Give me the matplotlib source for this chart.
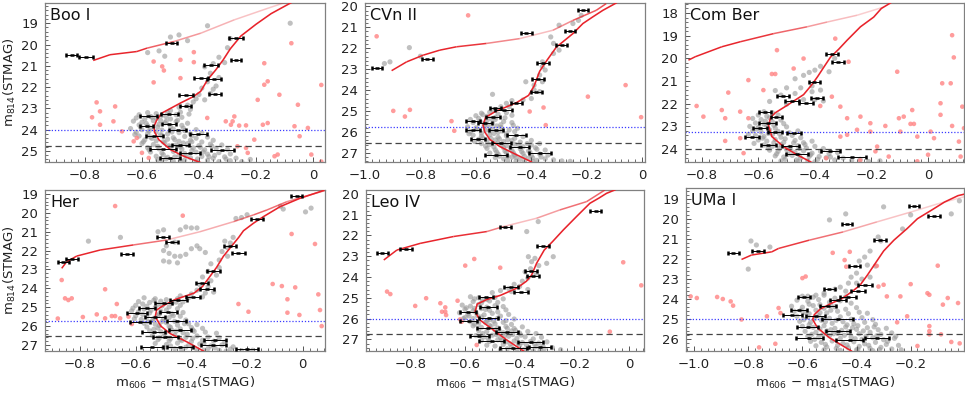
"""Six-panel CMD comparison of ultra-faint dwarfs (m606 - m814 vs m814)."""

import matplotlib

matplotlib.use("Agg")
import matplotlib.pyplot as plt
import numpy as np
from matplotlib.collections import LineCollection
from matplotlib.ticker import FuncFormatter, MultipleLocator

# ---------------------------------------------------------------- Boo I
BOO_RGB_X = [-0.394, -0.453, -0.500, -0.541, -0.556, -0.558, -0.548, -0.530, -0.465, -0.420,
             -0.394, -0.370, -0.341, -0.315, -0.290, -0.253, -0.200, -0.147, -0.076]
BOO_RGB_Y = [25.55, 25.25, 24.94, 24.47, 24.10, 23.85, 23.55, 23.22, 22.75, 22.45,
             22.20, 21.66, 21.19, 20.72, 20.20, 19.60, 19.05, 18.55, 18.03]
BOO_HB_X = [-0.771, -0.712, -0.618, -0.582, -0.488, -0.394, -0.276, -0.159, -0.088]
BOO_HB_Y = [20.75, 20.48, 20.33, 20.17, 19.86, 19.47, 18.84, 18.30, 17.98]
BOO_ERR = [(-0.847, 20.48, 0.018), (-0.796, 20.59, 0.024), (-0.496, 19.95, 0.018),
           (-0.271, 19.70, 0.024), (-0.271, 20.72, 0.018), (-0.359, 20.95, 0.024),
           (-0.394, 21.58, 0.024), (-0.347, 21.64, 0.024), (-0.445, 22.36, 0.024),
           (-0.345, 22.33, 0.021), (-0.447, 22.90, 0.018), (-0.504, 23.25, 0.030),
           (-0.578, 23.38, 0.030), (-0.506, 23.73, 0.024), (-0.584, 23.84, 0.024),
           (-0.474, 24.03, 0.030), (-0.403, 24.20, 0.030), (-0.556, 24.31, 0.030),
           (-0.465, 24.70, 0.030), (-0.527, 24.92, 0.045), (-0.318, 24.94, 0.040),
           (-0.432, 25.09, 0.035), (-0.500, 25.33, 0.035)]
BOO_RED = [(-0.418, 20.36), (-0.529, 21.03), (-0.523, 21.22), (-0.465, 21.58), (-0.418, 20.83),
           (-0.559, 21.78), (-0.194, 22.60), (-0.076, 19.94), (-0.171, 20.88), (-0.171, 21.89),
           (-0.159, 21.73), (-0.118, 22.36), (0.029, 21.90), (-0.053, 22.83), (-0.759, 22.72),
           (-0.694, 22.91), (-0.747, 23.14), (-0.775, 23.42), (-0.700, 23.61), (-0.747, 23.77),
           (-0.670, 24.08), (-0.371, 23.45), (-0.306, 23.61), (-0.282, 23.61), (-0.276, 23.38),
           (-0.288, 23.77), (-0.259, 23.81), (-0.235, 23.80), (-0.206, 24.47), (-0.159, 23.69),
           (-0.176, 23.77), (-0.065, 23.84), (-0.047, 24.31), (-0.265, 24.78), (-0.235, 24.86),
           (-0.229, 25.09), (-0.135, 25.25), (-0.124, 25.17), (-0.006, 25.17), (0.029, 25.50),
           (-0.629, 24.55), (-0.618, 24.39), (-0.600, 25.09), (-0.576, 25.33), (-0.018, 23.92),
           (-0.465, 20.72), (-0.559, 20.80)]
BOO_GRAY = [(-0.37, 19.12), (-0.08, 19.00), (-0.47, 19.55), (-0.50, 19.65), (-0.44, 19.82),
            (-0.58, 20.38), (-0.54, 20.30), (-0.52, 20.55), (-0.29, 19.72), (-0.30, 20.15),
            (-0.35, 20.90), (-0.38, 21.05), (-0.36, 21.35), (-0.33, 21.55), (-0.37, 21.75),
            (-0.34, 21.95), (-0.39, 22.05), (-0.36, 22.30), (-0.41, 22.55), (-0.38, 22.60),
            (-0.44, 22.85), (-0.47, 22.95), (-0.43, 23.05), (-0.50, 23.10), (-0.33, 20.60),
            (-0.31, 20.85), (-0.35, 22.10), (-0.42, 22.70), (-0.40, 22.35),
            (-0.58, 23.20), (-0.55, 23.25), (-0.51, 23.20), (-0.61, 23.30), (-0.57, 23.38),
            (-0.53, 23.33), (-0.48, 23.30), (-0.62, 23.45), (-0.59, 23.50), (-0.55, 23.46),
            (-0.50, 23.50), (-0.46, 23.42), (-0.63, 23.60), (-0.60, 23.65), (-0.56, 23.58),
            (-0.52, 23.68), (-0.48, 23.62), (-0.44, 23.70), (-0.61, 23.78), (-0.58, 23.82),
            (-0.54, 23.75), (-0.50, 23.85), (-0.46, 23.80), (-0.64, 23.95), (-0.60, 24.00),
            (-0.57, 23.93), (-0.53, 24.02), (-0.49, 23.97), (-0.45, 24.05), (-0.41, 24.00),
            (-0.62, 24.12), (-0.58, 24.18), (-0.55, 24.10), (-0.51, 24.20), (-0.47, 24.14),
            (-0.43, 24.20), (-0.39, 24.15), (-0.61, 24.30), (-0.57, 24.35), (-0.53, 24.28),
            (-0.49, 24.38), (-0.45, 24.32), (-0.41, 24.40), (-0.37, 24.35), (-0.59, 24.48),
            (-0.55, 24.52), (-0.51, 24.45), (-0.47, 24.55), (-0.43, 24.50), (-0.39, 24.58),
            (-0.35, 24.50), (-0.60, 24.65), (-0.56, 24.70), (-0.52, 24.62), (-0.48, 24.72),
            (-0.44, 24.66), (-0.40, 24.75), (-0.36, 24.68), (-0.32, 24.72), (-0.58, 24.85),
            (-0.54, 24.90), (-0.50, 24.82), (-0.46, 24.92), (-0.42, 24.86), (-0.38, 24.95),
            (-0.34, 24.88), (-0.30, 24.93), (-0.57, 25.05), (-0.53, 25.10), (-0.49, 25.02),
            (-0.45, 25.12), (-0.41, 25.06), (-0.37, 25.15), (-0.33, 25.08), (-0.29, 25.14),
            (-0.55, 25.25), (-0.51, 25.30), (-0.47, 25.22), (-0.43, 25.32), (-0.39, 25.26),
            (-0.35, 25.35), (-0.31, 25.28), (-0.27, 25.34), (-0.53, 25.45), (-0.49, 25.48),
            (-0.45, 25.42), (-0.41, 25.50), (-0.37, 25.44), (-0.33, 25.50), (-0.29, 25.46),
            (-0.25, 25.50), (-0.22, 25.40),
            (-0.565, 23.42), (-0.535, 23.56), (-0.585, 23.71), (-0.545, 23.88), (-0.515, 23.61),
            (-0.575, 24.07), (-0.535, 24.24), (-0.495, 24.11), (-0.565, 24.41), (-0.525, 24.57),
            (-0.485, 24.47), (-0.455, 24.63), (-0.545, 24.78), (-0.505, 24.76), (-0.465, 24.81),
            (-0.425, 24.98), (-0.525, 25.18), (-0.485, 25.28), (-0.445, 25.21), (-0.405, 25.38),
            (-0.365, 25.27), (-0.515, 25.37), (-0.465, 25.47), (-0.385, 25.05), (-0.345, 25.21),
            (-0.305, 25.38), (-0.425, 24.57), (-0.395, 24.83), (-0.355, 24.77), (-0.605, 23.88),
            (-0.625, 24.23), (-0.595, 24.57), (-0.575, 24.95), (-0.545, 25.41), (-0.455, 23.93),
            (-0.425, 24.29), (-0.475, 23.56), (-0.515, 23.39), (-0.435, 23.27), (-0.465, 23.18)]

# ---------------------------------------------------------------- CVn II
CVN_RGB_X = [-0.400, -0.454, -0.514, -0.550, -0.568, -0.574, -0.565, -0.530, -0.454, -0.410,
             -0.390, -0.370, -0.345, -0.310, -0.250, -0.214, -0.178, -0.142, -0.094]
CVN_RGB_Y = [27.42, 27.08, 26.69, 26.35, 26.00, 25.66, 25.30, 25.02, 24.60, 24.25,
             23.80, 23.10, 22.60, 21.95, 21.30, 20.82, 20.50, 20.19, 19.84]
CVN_HB_X = [-0.904, -0.850, -0.790, -0.730, -0.670, -0.562, -0.442, -0.322, -0.250, -0.166, -0.130]
CVN_HB_Y = [23.07, 22.65, 22.33, 22.09, 21.93, 21.77, 21.54, 21.14, 20.67, 20.19, 19.87]
CVN_ERR = [(-0.214, 20.19, 0.018), (-0.418, 21.25, 0.020), (-0.262, 21.19, 0.018),
           (-0.290, 21.85, 0.020), (-0.776, 22.49, 0.020), (-0.956, 22.96, 0.018),
           (-0.358, 22.69, 0.020), (-0.376, 23.49, 0.020), (-0.382, 24.10, 0.020),
           (-0.454, 24.63, 0.020), (-0.530, 24.85, 0.020), (-0.500, 24.97, 0.030),
           (-0.538, 25.29, 0.025), (-0.610, 25.45, 0.025), (-0.568, 25.55, 0.025),
           (-0.610, 25.90, 0.025), (-0.526, 25.90, 0.025), (-0.454, 26.13, 0.035),
           (-0.592, 26.32, 0.025), (-0.508, 26.53, 0.035), (-0.442, 26.72, 0.035),
           (-0.370, 27.00, 0.040), (-0.526, 27.10, 0.040)]
CVN_RED = [(-0.628, 20.43), (-0.958, 21.43), (-0.060, 23.76), (-0.196, 24.31), (-0.898, 24.99),
           (-0.838, 24.94), (-0.856, 25.26), (-0.688, 25.48), (-0.678, 25.94), (-0.406, 25.02),
           (-0.356, 24.83), (-0.004, 25.29), (-0.348, 25.67)]
CVN_GRAY = [(-0.84, 21.97), (-0.80, 22.38), (-0.93, 22.73), (-0.91, 22.65), (-0.30, 20.90),
            (-0.25, 20.82), (-0.22, 20.43), (-0.23, 20.67), (-0.33, 21.46), (-0.32, 21.77),
            (-0.30, 22.09), (-0.32, 22.25), (-0.36, 22.65), (-0.36, 22.88), (-0.35, 23.04),
            (-0.37, 23.28), (-0.36, 23.60), (-0.39, 23.76), (-0.39, 23.99), (-0.37, 24.07),
            (-0.54, 24.20), (-0.43, 24.47), (-0.47, 24.50), (-0.49, 24.63), (-0.48, 24.79),
            (-0.51, 24.79), (-0.54, 24.94), (-0.42, 23.60), (-0.40, 24.40),
            (-0.58, 25.10), (-0.55, 25.05), (-0.52, 25.15), (-0.49, 25.08), (-0.56, 25.25),
            (-0.60, 25.22), (-0.53, 25.30), (-0.47, 25.20), (-0.62, 25.40), (-0.59, 25.35),
            (-0.56, 25.45), (-0.53, 25.40), (-0.50, 25.50), (-0.61, 25.55), (-0.57, 25.60),
            (-0.54, 25.58), (-0.51, 25.65), (-0.47, 25.55), (-0.63, 25.75), (-0.60, 25.80),
            (-0.57, 25.72), (-0.54, 25.85), (-0.51, 25.78), (-0.48, 25.90), (-0.45, 25.82),
            (-0.62, 25.98), (-0.58, 26.05), (-0.55, 25.95), (-0.52, 26.02), (-0.49, 26.08),
            (-0.46, 25.98), (-0.61, 26.15), (-0.58, 26.20), (-0.55, 26.12), (-0.52, 26.25),
            (-0.49, 26.18), (-0.46, 26.30), (-0.43, 26.22), (-0.59, 26.35), (-0.56, 26.42),
            (-0.53, 26.38), (-0.50, 26.45), (-0.47, 26.40), (-0.44, 26.48), (-0.40, 26.40),
            (-0.58, 26.55), (-0.55, 26.60), (-0.52, 26.52), (-0.49, 26.65), (-0.46, 26.58),
            (-0.43, 26.70), (-0.40, 26.62), (-0.37, 26.55), (-0.56, 26.78), (-0.53, 26.85),
            (-0.50, 26.75), (-0.47, 26.88), (-0.44, 26.80), (-0.41, 26.90), (-0.38, 26.82),
            (-0.35, 26.86), (-0.55, 27.00), (-0.52, 27.05), (-0.49, 26.98), (-0.46, 27.10),
            (-0.43, 27.02), (-0.40, 27.12), (-0.37, 27.05), (-0.34, 27.10), (-0.53, 27.22),
            (-0.50, 27.28), (-0.47, 27.20), (-0.44, 27.30), (-0.41, 27.25), (-0.38, 27.35),
            (-0.35, 27.28), (-0.32, 27.33), (-0.29, 27.38), (-0.26, 27.40),
            (-0.575, 25.17), (-0.545, 25.36), (-0.585, 25.49), (-0.555, 25.68), (-0.525, 25.71),
            (-0.595, 25.87), (-0.565, 25.91), (-0.535, 26.07), (-0.505, 25.95), (-0.575, 26.28),
            (-0.545, 26.31), (-0.515, 26.33), (-0.485, 26.36), (-0.565, 26.67), (-0.535, 26.71),
            (-0.505, 26.59), (-0.475, 26.76), (-0.445, 26.64), (-0.525, 26.95), (-0.495, 26.91),
            (-0.465, 26.99), (-0.435, 26.93), (-0.405, 26.97), (-0.515, 27.15), (-0.485, 27.17),
            (-0.455, 27.21), (-0.425, 27.16), (-0.395, 27.23), (-0.365, 27.19), (-0.485, 27.37),
            (-0.455, 27.38), (-0.425, 27.41), (-0.395, 27.39), (-0.605, 26.45), (-0.625, 26.08),
            (-0.495, 25.32), (-0.465, 25.68), (-0.415, 26.55), (-0.385, 26.75)]

# ---------------------------------------------------------------- Com Ber
COM_RGB_X = [-0.410, -0.463, -0.511, -0.552, -0.564, -0.556, -0.540, -0.499, -0.440, -0.410,
             -0.390, -0.369, -0.345, -0.316, -0.286, -0.239, -0.192, -0.165, -0.133]
COM_RGB_Y = [24.60, 24.25, 23.89, 23.45, 22.95, 22.60, 22.40, 22.08, 21.60, 21.15,
             20.80, 20.40, 19.95, 19.60, 19.20, 18.61, 18.18, 17.80, 17.56]
COM_HB_X = [-0.847, -0.823, -0.729, -0.664, -0.546, -0.428, -0.357, -0.251, -0.157]
COM_HB_Y = [20.08, 19.93, 19.49, 19.27, 18.91, 18.61, 18.40, 18.10, 17.74]
COM_ERR = [(-0.340, 19.79, 0.020), (-0.318, 20.16, 0.020), (-0.402, 21.03, 0.020),
           (-0.513, 21.67, 0.020), (-0.481, 21.88, 0.025), (-0.430, 21.96, 0.025),
           (-0.393, 21.76, 0.020), (-0.576, 22.35, 0.020), (-0.536, 22.57, 0.020),
           (-0.566, 22.85, 0.030), (-0.593, 23.08, 0.025), (-0.540, 23.25, 0.025),
           (-0.475, 23.30, 0.025), (-0.623, 23.48, 0.025), (-0.564, 23.81, 0.025),
           (-0.487, 23.86, 0.030), (-0.463, 24.23, 0.040), (-0.345, 24.08, 0.035),
           (-0.270, 24.37, 0.050)]
COM_RED = [(-0.328, 19.13), (-0.534, 19.64), (-0.440, 20.01), (-0.281, 20.15), (-0.475, 20.45),
           (-0.552, 20.69), (-0.540, 20.69), (-0.635, 20.96), (-0.582, 21.40), (-0.706, 21.51),
           (-0.818, 22.10), (-0.794, 22.57), (-0.729, 22.28), (-0.717, 22.64), (-0.664, 22.35),
           (-0.635, 22.64), (-0.381, 22.10), (-0.310, 22.13), (-0.340, 21.69), (-0.286, 22.64),
           (-0.239, 22.57), (-0.204, 22.86), (-0.151, 22.98), (-0.109, 20.59), (-0.056, 22.28),
           (-0.103, 22.64), (-0.086, 22.57), (-0.062, 22.89), (-0.050, 22.89), (0.044, 21.98),
           (0.044, 22.49), (0.050, 21.10), (0.080, 21.10), (0.085, 18.98), (0.091, 19.96),
           (0.121, 22.13), (0.085, 22.98), (0.127, 23.08), (-0.098, 23.23), (0.009, 23.23),
           (-0.251, 23.15), (-0.286, 23.37), (-0.310, 23.45), (-0.204, 23.23), (-0.180, 23.89),
           (-0.038, 23.45), (0.021, 23.52), (0.000, 24.25), (-0.186, 24.10), (-0.139, 24.33),
           (-0.038, 24.54), (0.115, 24.33), (0.109, 23.67), (-0.664, 23.52), (-0.717, 23.64),
           (-0.652, 24.18), (-0.360, 24.40), (-0.240, 24.50)]
COM_GRAY = [(-0.42, 20.62), (-0.44, 20.75), (-0.40, 20.52), (-0.38, 20.35), (-0.35, 20.59),
            (-0.47, 20.90), (-0.50, 21.30), (-0.54, 21.42), (-0.45, 21.30), (-0.41, 21.22),
            (-0.38, 21.40), (-0.47, 21.55), (-0.52, 21.62), (-0.56, 21.90), (-0.50, 22.02),
            (-0.44, 21.82), (-0.40, 21.82), (-0.37, 21.88), (-0.33, 20.00), (-0.41, 21.47),
            (-0.58, 22.35), (-0.55, 22.40), (-0.60, 22.50), (-0.57, 22.55), (-0.53, 22.50),
            (-0.62, 22.65), (-0.59, 22.70), (-0.56, 22.62), (-0.52, 22.72), (-0.61, 22.85),
            (-0.58, 22.90), (-0.55, 22.80), (-0.51, 22.88), (-0.63, 23.00), (-0.60, 23.05),
            (-0.57, 22.98), (-0.54, 23.08), (-0.50, 23.02), (-0.62, 23.20), (-0.59, 23.25),
            (-0.56, 23.15), (-0.53, 23.22), (-0.49, 23.28), (-0.46, 23.20), (-0.61, 23.40),
            (-0.58, 23.45), (-0.55, 23.36), (-0.52, 23.48), (-0.48, 23.40), (-0.45, 23.50),
            (-0.60, 23.60), (-0.57, 23.65), (-0.54, 23.58), (-0.51, 23.70), (-0.47, 23.62),
            (-0.44, 23.72), (-0.41, 23.65), (-0.58, 23.82), (-0.55, 23.88), (-0.52, 23.80),
            (-0.49, 23.92), (-0.46, 23.85), (-0.43, 23.95), (-0.40, 23.88), (-0.37, 23.98),
            (-0.56, 24.05), (-0.53, 24.10), (-0.50, 24.02), (-0.47, 24.15), (-0.44, 24.08),
            (-0.41, 24.18), (-0.38, 24.10), (-0.35, 24.20), (-0.32, 24.15), (-0.54, 24.30),
            (-0.51, 24.35), (-0.48, 24.28), (-0.45, 24.40), (-0.42, 24.32), (-0.39, 24.45),
            (-0.36, 24.38), (-0.33, 24.48), (-0.30, 24.40), (-0.27, 24.50), (-0.52, 24.52),
            (-0.46, 24.55), (-0.40, 24.56), (-0.24, 24.45), (-0.21, 24.55), (-0.17, 24.52),
            (-0.575, 22.77), (-0.545, 22.95), (-0.605, 23.12), (-0.565, 23.31), (-0.525, 23.33),
            (-0.585, 23.52), (-0.545, 23.72), (-0.505, 23.55), (-0.565, 23.95), (-0.525, 23.97),
            (-0.485, 24.05), (-0.455, 23.97), (-0.535, 24.21), (-0.495, 24.23), (-0.455, 24.27),
            (-0.415, 24.25), (-0.505, 24.45), (-0.465, 24.48), (-0.425, 24.51), (-0.385, 24.33),
            (-0.345, 24.35), (-0.435, 23.80), (-0.475, 23.73), (-0.635, 23.35), (-0.615, 23.75)]

# ---------------------------------------------------------------- Her
HER_RGB_X = [-0.357, -0.417, -0.477, -0.510, -0.530, -0.525, -0.505, -0.460, -0.390, -0.360,
             -0.345, -0.310, -0.285, -0.255, -0.230, -0.213, -0.177, -0.141, -0.081, -0.010, 0.074]
HER_RGB_Y = [27.32, 26.83, 26.39, 26.00, 25.50, 25.15, 24.95, 24.60, 24.25, 23.90,
             23.60, 22.90, 22.30, 21.75, 21.30, 20.95, 20.55, 20.20, 19.67, 19.23, 18.82]
HER_HB_X = [-0.866, -0.848, -0.812, -0.728, -0.608, -0.489, -0.369, -0.249, -0.177, -0.129,
            -0.057, 0.026, 0.080]
HER_HB_Y = [22.94, 22.59, 22.29, 21.97, 21.70, 21.44, 21.00, 20.47, 20.11, 19.85,
            19.41, 19.05, 18.82]
HER_ERR = [(-0.022, 19.11, 0.020), (-0.165, 20.34, 0.022), (-0.501, 21.30, 0.022),
           (-0.471, 21.53, 0.022), (-0.860, 22.59, 0.020), (-0.830, 22.46, 0.022),
           (-0.632, 22.18, 0.022), (-0.261, 21.76, 0.022), (-0.231, 22.11, 0.022),
           (-0.321, 23.06, 0.022), (-0.363, 23.73, 0.022), (-0.345, 24.05, 0.025),
           (-0.393, 24.44, 0.025), (-0.447, 24.62, 0.030), (-0.500, 24.80, 0.030),
           (-0.560, 25.06, 0.030), (-0.483, 25.24, 0.030), (-0.596, 25.32, 0.035),
           (-0.530, 25.50, 0.035), (-0.584, 25.77, 0.035), (-0.453, 25.73, 0.035),
           (-0.441, 26.21, 0.040), (-0.536, 26.30, 0.040), (-0.494, 26.60, 0.045),
           (-0.315, 26.74, 0.040), (-0.321, 27.00, 0.045), (-0.542, 27.09, 0.040),
           (-0.441, 27.13, 0.045), (-0.201, 27.24, 0.040)]
HER_RED = [(-0.674, 19.64), (-0.431, 20.15), (-0.040, 21.12), (0.044, 21.65), (-0.866, 23.56),
           (-0.854, 24.53), (-0.842, 24.62), (-0.830, 24.53), (-0.710, 24.05), (-0.668, 24.83),
           (-0.740, 25.38), (-0.710, 25.59), (-0.686, 25.47), (-0.674, 25.47), (-0.656, 25.59),
           (-0.626, 25.50), (-0.614, 25.89), (-0.231, 24.83), (-0.195, 25.24), (-0.108, 23.77),
           (-0.075, 23.88), (-0.027, 23.95), (-0.055, 24.58), (-0.055, 25.29), (-0.012, 25.41),
           (0.056, 24.32), (0.062, 25.15), (0.068, 26.00), (-0.880, 25.60), (-0.790, 25.52)]
HER_GRAY = [(-0.77, 21.50), (-0.655, 21.30), (-0.52, 21.00), (-0.50, 20.90), (-0.44, 20.90),
            (-0.42, 20.75), (-0.40, 20.80), (-0.38, 20.80), (-0.46, 21.55), (-0.49, 21.75),
            (-0.50, 22.00), (-0.48, 22.15), (-0.46, 22.30), (-0.44, 22.30), (-0.42, 22.20),
            (-0.38, 21.75), (-0.40, 21.90), (-0.37, 21.90), (-0.35, 22.10), (-0.50, 22.55),
            (-0.48, 22.60), (-0.45, 22.65), (-0.28, 21.50), (-0.26, 21.60), (-0.25, 21.30),
            (-0.27, 21.85), (-0.29, 22.05), (-0.27, 22.30), (-0.24, 20.30), (-0.22, 20.25),
            (-0.20, 20.10), (-0.08, 19.65), (-0.07, 19.80), (0.01, 19.95), (0.03, 19.75),
            (-0.30, 22.50), (-0.33, 22.70), (-0.30, 22.90), (-0.34, 23.10), (-0.31, 23.30),
            (-0.36, 23.40), (-0.33, 23.60), (-0.37, 23.80), (-0.34, 23.90), (-0.38, 24.10),
            (-0.32, 24.20), (-0.35, 24.25), (-0.40, 24.30), (-0.44, 24.40), (-0.36, 24.45),
            (-0.57, 24.50), (-0.53, 24.55), (-0.49, 24.60), (-0.45, 24.55), (-0.41, 24.50),
            (-0.59, 24.70), (-0.55, 24.75), (-0.51, 24.68), (-0.47, 24.80), (-0.43, 24.72),
            (-0.60, 24.90), (-0.56, 24.95), (-0.52, 24.85), (-0.48, 24.98), (-0.44, 24.90),
            (-0.61, 25.05), (-0.57, 25.10), (-0.53, 25.02), (-0.49, 25.15), (-0.45, 25.08),
            (-0.59, 25.25), (-0.55, 25.30), (-0.51, 25.22), (-0.47, 25.35), (-0.43, 25.28),
            (-0.60, 25.45), (-0.56, 25.50), (-0.52, 25.42), (-0.48, 25.55), (-0.44, 25.48),
            (-0.58, 25.65), (-0.54, 25.70), (-0.50, 25.62), (-0.46, 25.75), (-0.42, 25.68),
            (-0.57, 25.85), (-0.53, 25.90), (-0.49, 25.82), (-0.45, 25.95), (-0.41, 25.88),
            (-0.38, 25.92), (-0.56, 26.05), (-0.52, 26.10), (-0.48, 26.02), (-0.44, 26.15),
            (-0.40, 26.08), (-0.36, 26.12), (-0.55, 26.25), (-0.51, 26.30), (-0.47, 26.22),
            (-0.43, 26.35), (-0.39, 26.28), (-0.35, 26.32), (-0.31, 26.38), (-0.54, 26.50),
            (-0.50, 26.55), (-0.46, 26.48), (-0.42, 26.60), (-0.38, 26.52), (-0.34, 26.58),
            (-0.30, 26.62), (-0.52, 26.72), (-0.48, 26.78), (-0.44, 26.70), (-0.40, 26.82),
            (-0.36, 26.75), (-0.32, 26.80), (-0.28, 26.85), (-0.53, 26.92), (-0.49, 26.98),
            (-0.45, 26.90), (-0.41, 27.02), (-0.37, 26.95), (-0.33, 27.05), (-0.29, 27.00),
            (-0.25, 27.10), (-0.50, 27.15), (-0.46, 27.20), (-0.42, 27.12), (-0.38, 27.25),
            (-0.34, 27.18), (-0.30, 27.28), (-0.26, 27.22), (-0.22, 27.30), (-0.18, 27.28),
            (-0.535, 24.63), (-0.505, 24.93), (-0.575, 24.83), (-0.545, 25.17), (-0.515, 25.36),
            (-0.575, 25.38), (-0.535, 25.59), (-0.505, 25.75), (-0.555, 25.77), (-0.515, 25.97),
            (-0.475, 26.07), (-0.535, 26.17), (-0.495, 26.38), (-0.455, 26.27), (-0.415, 26.43),
            (-0.515, 26.63), (-0.475, 26.67), (-0.435, 26.77), (-0.395, 26.65), (-0.355, 26.92),
            (-0.475, 27.05), (-0.435, 27.25), (-0.395, 27.12), (-0.355, 27.28), (-0.315, 27.15),
            (-0.275, 27.32), (-0.465, 25.45), (-0.425, 25.87), (-0.395, 26.20), (-0.615, 25.20),
            (-0.605, 25.62), (-0.455, 24.73)]

# ---------------------------------------------------------------- Leo IV
LEO_RGB_X = [-0.386, -0.447, -0.496, -0.545, -0.563, -0.555, -0.520, -0.470, -0.411, -0.375,
             -0.356, -0.338, -0.310, -0.280, -0.240, -0.192, -0.143, -0.110, -0.082, -0.052]
LEO_RGB_Y = [27.56, 27.03, 26.55, 26.07, 25.67, 25.30, 25.08, 24.88, 24.54, 24.20,
             23.90, 23.34, 22.70, 22.30, 21.73, 21.09, 20.45, 20.20, 19.97, 19.81]
LEO_HB_X = [-0.897, -0.849, -0.764, -0.642, -0.520, -0.459, -0.338, -0.253, -0.155, -0.088]
LEO_HB_Y = [23.18, 22.70, 22.38, 22.05, 21.81, 21.57, 21.17, 20.77, 20.37, 19.81]
LEO_ERR = [(-0.121, 20.80, 0.020), (-0.453, 21.57, 0.020), (-0.903, 22.83, 0.020),
           (-0.815, 22.65, 0.022), (-0.313, 22.50, 0.022), (-0.360, 23.72, 0.022),
           (-0.352, 23.95, 0.022), (-0.432, 24.50, 0.025), (-0.395, 24.70, 0.025),
           (-0.523, 24.98, 0.025), (-0.514, 25.45, 0.030), (-0.588, 25.70, 0.030),
           (-0.513, 25.95, 0.035), (-0.587, 26.13, 0.030), (-0.516, 26.44, 0.040),
           (-0.447, 26.66, 0.040), (-0.548, 26.85, 0.035), (-0.502, 27.06, 0.045),
           (-0.360, 27.15, 0.045), (-0.326, 27.35, 0.040), (-0.423, 27.40, 0.050)]
LEO_RED = [(-0.566, 23.13), (-0.599, 23.45), (-0.471, 23.55), (-0.021, 23.29), (0.045, 24.40),
           (-0.885, 24.70), (-0.873, 24.82), (-0.742, 25.02), (-0.782, 25.39), (-0.690, 25.26),
           (-0.672, 25.46), (-0.672, 25.67), (-0.669, 25.83), (-0.684, 25.67), (-0.627, 25.14),
           (-0.618, 26.04), (-0.612, 26.15), (-0.070, 26.63), (-0.557, 27.27)]
LEO_GRAY = [(-0.332, 21.33), (-0.374, 21.81), (-0.344, 23.10), (-0.277, 23.02), (-0.301, 23.34),
            (-0.368, 23.02), (-0.356, 23.26), (-0.33, 23.45), (-0.36, 23.60), (-0.38, 23.75),
            (-0.34, 23.85), (-0.37, 24.05), (-0.39, 24.20), (-0.42, 24.35), (-0.40, 24.45),
            (-0.44, 24.55), (-0.47, 24.65), (-0.43, 24.70), (-0.50, 24.75), (-0.37, 24.60),
            (-0.58, 24.95), (-0.55, 25.00), (-0.52, 25.08), (-0.49, 24.98), (-0.46, 25.05),
            (-0.57, 25.18), (-0.54, 25.25), (-0.51, 25.15), (-0.48, 25.22), (-0.61, 25.35),
            (-0.58, 25.40), (-0.55, 25.32), (-0.52, 25.45), (-0.49, 25.38), (-0.46, 25.42),
            (-0.60, 25.55), (-0.57, 25.62), (-0.54, 25.52), (-0.51, 25.60), (-0.48, 25.68),
            (-0.45, 25.58), (-0.62, 25.72), (-0.59, 25.78), (-0.56, 25.70), (-0.53, 25.82),
            (-0.50, 25.75), (-0.47, 25.88), (-0.44, 25.80), (-0.60, 25.95), (-0.57, 26.00),
            (-0.54, 25.92), (-0.51, 26.05), (-0.48, 25.98), (-0.45, 26.10), (-0.42, 26.02),
            (-0.58, 26.15), (-0.55, 26.22), (-0.52, 26.12), (-0.49, 26.25), (-0.46, 26.18),
            (-0.43, 26.28), (-0.57, 26.35), (-0.54, 26.42), (-0.51, 26.32), (-0.48, 26.45),
            (-0.45, 26.38), (-0.42, 26.48), (-0.39, 26.40), (-0.55, 26.58), (-0.52, 26.62),
            (-0.49, 26.55), (-0.46, 26.68), (-0.43, 26.60), (-0.40, 26.70), (-0.37, 26.62),
            (-0.34, 26.72), (-0.56, 26.82), (-0.53, 26.88), (-0.50, 26.80), (-0.47, 26.92),
            (-0.44, 26.85), (-0.41, 26.95), (-0.38, 26.88), (-0.35, 26.98), (-0.32, 26.90),
            (-0.54, 27.05), (-0.51, 27.10), (-0.48, 27.02), (-0.45, 27.12), (-0.42, 27.08),
            (-0.39, 27.15), (-0.36, 27.10), (-0.33, 27.18), (-0.30, 27.12), (-0.52, 27.28),
            (-0.49, 27.32), (-0.46, 27.25), (-0.43, 27.38), (-0.40, 27.30), (-0.37, 27.42),
            (-0.34, 27.35), (-0.31, 27.45), (-0.28, 27.40), (-0.25, 27.50), (-0.47, 27.50),
            (-0.41, 27.52), (-0.35, 27.55),
            (-0.565, 25.05), (-0.535, 25.13), (-0.595, 25.48), (-0.565, 25.51), (-0.525, 25.56),
            (-0.585, 25.87), (-0.555, 25.85), (-0.525, 26.18), (-0.495, 26.12), (-0.565, 26.27),
            (-0.505, 26.38), (-0.475, 26.55), (-0.445, 26.47), (-0.415, 26.57), (-0.535, 26.72),
            (-0.485, 26.77), (-0.455, 26.82), (-0.425, 26.77), (-0.395, 26.80), (-0.515, 26.97),
            (-0.465, 27.05), (-0.435, 27.22), (-0.405, 27.20), (-0.375, 27.27), (-0.345, 27.23),
            (-0.315, 27.32), (-0.445, 27.45), (-0.385, 27.50), (-0.325, 27.52), (-0.605, 26.00)]

# ---------------------------------------------------------------- UMa I
UMA_RGB_X = [-0.419, -0.450, -0.500, -0.544, -0.562, -0.556, -0.535, -0.500, -0.450, -0.410,
             -0.387, -0.360, -0.330, -0.300, -0.262, -0.213, -0.175, -0.125, -0.075, -0.025, 0.013]
UMA_RGB_Y = [26.58, 26.33, 25.92, 25.43, 25.01, 24.77, 24.50, 24.25, 23.94, 23.55,
             23.30, 22.80, 22.20, 21.60, 21.06, 20.48, 19.99, 19.58, 19.16, 18.84, 18.72]
UMA_HB_X = [-0.825, -0.788, -0.713, -0.688, -0.575, -0.450, -0.325, -0.200, -0.100, 0.013]
UMA_HB_Y = [22.02, 21.80, 21.64, 21.47, 21.06, 20.65, 20.15, 19.66, 19.25, 18.84]
UMA_ERR = [(-0.188, 19.36, 0.020), (-0.113, 19.87, 0.022), (-0.435, 20.24, 0.018),
           (-0.312, 21.06, 0.022), (-0.855, 21.72, 0.020), (-0.763, 21.60, 0.022),
           (-0.406, 22.34, 0.020), (-0.369, 23.30, 0.025), (-0.394, 23.61, 0.025),
           (-0.500, 23.50, 0.020), (-0.594, 23.89, 0.022), (-0.431, 23.89, 0.030),
           (-0.469, 24.06, 0.030), (-0.506, 24.35, 0.030), (-0.612, 24.52, 0.030),
           (-0.638, 24.77, 0.035), (-0.550, 24.82, 0.035), (-0.470, 25.01, 0.056),
           (-0.581, 25.38, 0.040), (-0.469, 25.59, 0.045), (-0.575, 25.92, 0.050),
           (-0.425, 26.02, 0.050), (-0.325, 25.92, 0.045)]
UMA_RED = [(-0.488, 21.69), (-0.425, 21.64), (-0.444, 22.05), (-0.438, 22.38), (-0.588, 22.87),
           (-0.600, 22.95), (-1.013, 23.86), (-0.990, 23.94), (-0.915, 23.89), (-0.894, 23.99),
           (-0.865, 24.11), (-0.856, 24.32), (-0.688, 24.44), (-0.681, 24.69), (-0.731, 24.85),
           (-0.825, 25.01), (-0.325, 22.34), (-0.300, 23.28), (-0.319, 23.37), (-0.288, 23.86),
           (-0.238, 23.86), (-0.200, 23.25), (-0.138, 23.70), (-0.131, 23.78), (-0.100, 22.33),
           (-0.063, 23.94), (-0.081, 24.27), (-0.025, 24.19), (-0.213, 24.85), (-0.131, 25.34),
           (-0.131, 25.59), (-0.131, 25.75), (-0.088, 25.75), (-0.050, 26.13), (-0.019, 26.20),
           (-0.175, 26.33), (-0.700, 26.22), (-0.760, 26.40), (-0.250, 25.15)]
UMA_GRAY = [(-0.79, 21.10), (-0.77, 21.30), (-0.72, 21.40), (-0.80, 22.50), (-0.50, 20.05),
            (-0.44, 19.75), (-0.30, 19.40), (-0.20, 19.80), (-0.23, 20.50), (-0.05, 19.75),
            (-0.02, 19.10), (-0.32, 20.90), (-0.31, 21.10), (-0.35, 21.60), (-0.37, 21.90),
            (-0.39, 22.10), (-0.36, 22.30), (-0.33, 22.35), (-0.40, 22.70), (-0.42, 22.90),
            (-0.38, 23.00), (-0.43, 23.20), (-0.46, 23.40), (-0.48, 23.50), (-0.44, 23.60),
            (-0.52, 23.70), (-0.55, 23.80), (-0.58, 23.85), (-0.40, 23.20), (-0.35, 22.90),
            (-0.60, 23.85), (-0.56, 23.90), (-0.52, 23.80), (-0.48, 23.95), (-0.44, 23.88),
            (-0.62, 24.05), (-0.58, 24.10), (-0.54, 24.02), (-0.50, 24.15), (-0.46, 24.08),
            (-0.42, 24.20), (-0.64, 24.35), (-0.60, 24.40), (-0.56, 24.32), (-0.52, 24.45),
            (-0.48, 24.38), (-0.44, 24.50), (-0.40, 24.42), (-0.63, 24.60), (-0.59, 24.65),
            (-0.55, 24.55), (-0.51, 24.68), (-0.47, 24.60), (-0.43, 24.72), (-0.39, 24.65),
            (-0.36, 24.70), (-0.62, 24.85), (-0.58, 24.90), (-0.54, 24.82), (-0.50, 24.95),
            (-0.46, 24.88), (-0.42, 25.00), (-0.38, 24.92), (-0.34, 25.02), (-0.61, 25.10),
            (-0.57, 25.15), (-0.53, 25.05), (-0.49, 25.20), (-0.45, 25.12), (-0.41, 25.22),
            (-0.37, 25.15), (-0.33, 25.25), (-0.60, 25.35), (-0.56, 25.40), (-0.52, 25.32),
            (-0.48, 25.45), (-0.44, 25.38), (-0.40, 25.50), (-0.36, 25.42), (-0.32, 25.52),
            (-0.29, 25.45), (-0.59, 25.60), (-0.55, 25.65), (-0.51, 25.58), (-0.47, 25.70),
            (-0.43, 25.62), (-0.39, 25.72), (-0.35, 25.65), (-0.31, 25.75), (-0.27, 25.68),
            (-0.58, 25.85), (-0.54, 25.90), (-0.50, 25.82), (-0.46, 25.95), (-0.42, 25.88),
            (-0.38, 26.00), (-0.34, 25.92), (-0.30, 26.02), (-0.26, 25.95), (-0.57, 26.10),
            (-0.53, 26.15), (-0.49, 26.08), (-0.45, 26.20), (-0.41, 26.12), (-0.37, 26.22),
            (-0.33, 26.15), (-0.29, 26.25), (-0.55, 26.32), (-0.51, 26.38), (-0.47, 26.30),
            (-0.43, 26.42), (-0.39, 26.35), (-0.35, 26.45), (-0.31, 26.40), (-0.27, 26.48),
            (-0.52, 26.52), (-0.46, 26.55), (-0.40, 26.52), (-0.34, 26.56),
            (-0.575, 24.25), (-0.535, 24.27), (-0.495, 24.31), (-0.605, 24.55), (-0.575, 24.72),
            (-0.535, 24.67), (-0.495, 24.55), (-0.595, 25.02), (-0.555, 24.98), (-0.515, 25.12),
            (-0.475, 25.05), (-0.435, 25.28), (-0.395, 25.32), (-0.575, 25.27), (-0.535, 25.48),
            (-0.495, 25.52), (-0.455, 25.55), (-0.415, 25.42), (-0.375, 25.58), (-0.335, 25.38),
            (-0.565, 25.75), (-0.525, 25.77), (-0.485, 25.72), (-0.445, 25.80), (-0.405, 25.97),
            (-0.365, 25.85), (-0.325, 25.82), (-0.285, 26.10), (-0.555, 26.00), (-0.515, 26.25),
            (-0.475, 26.45), (-0.435, 26.28), (-0.395, 26.50), (-0.355, 26.30), (-0.315, 26.50),
            (-0.245, 26.30), (-0.255, 25.85), (-0.235, 26.52)]

# panel names, limits and reference lines (completeness / blue and dashed)
NAMES = ["Boo I", "CVn II", "Com Ber", "Her", "Leo IV", "UMa I"]
XLIMS = [(-0.94, 0.042), (-1.0, 0.01), (-0.859, 0.127), (-0.926, 0.08), (-0.962, 0.055), (-1.03, -0.003)]
YLIMS = [(25.52, 18.05), (27.43, 19.84), (24.57, 17.56), (27.32, 18.79), (27.56, 19.81), (26.58, 18.46)]
BLUE_MAG = [24.0, 25.75, 23.25, 25.75, 26.0, 25.0]
DASH_MAG = [24.75, 26.5, 24.0, 26.5, 26.75, 25.75]

# HB line opacity along the track (style)
HB_ALPHA = [
    [1, 1, 1, 0.9, 0.55, 0.4, 0.3, 0.25, 0.25],
    [1, 1, 1, 1, 1, 0.85, 0.25, 0.35, 0.7, 0.8, 0.8],
    [1, 1, 1, 1, 0.85, 0.55, 0.35, 0.25, 0.2],
    [1, 1, 1, 1, 0.9, 0.4, 0.25, 0.5, 0.7, 0.7, 0.6, 0.5, 0.5],
    [1, 1, 1, 1, 0.9, 0.3, 0.3, 0.6, 0.7, 0.7],
    [1, 1, 1, 1, 0.8, 0.5, 0.3, 0.25, 0.2, 0.2],
]

# axes boxes in pixels (left, top, right, bottom) on a 965x393 canvas
BOXES = [(45, 3, 325, 162), (365, 3, 645, 162), (685, 3, 964, 162),
         (45, 190, 325, 351), (366, 190, 644, 351), (686, 188, 964, 351)]

PANELS = [
    (BOO_RGB_X, BOO_RGB_Y, BOO_HB_X, BOO_HB_Y, BOO_ERR, BOO_RED, BOO_GRAY),
    (CVN_RGB_X, CVN_RGB_Y, CVN_HB_X, CVN_HB_Y, CVN_ERR, CVN_RED, CVN_GRAY),
    (COM_RGB_X, COM_RGB_Y, COM_HB_X, COM_HB_Y, COM_ERR, COM_RED, COM_GRAY),
    (HER_RGB_X, HER_RGB_Y, HER_HB_X, HER_HB_Y, HER_ERR, HER_RED, HER_GRAY),
    (LEO_RGB_X, LEO_RGB_Y, LEO_HB_X, LEO_HB_Y, LEO_ERR, LEO_RED, LEO_GRAY),
    (UMA_RGB_X, UMA_RGB_Y, UMA_HB_X, UMA_HB_Y, UMA_ERR, UMA_RED, UMA_GRAY),
]

W, H = 965, 393
RED = "#e8232b"


def tick_fmt(v, _pos):
    if abs(v) < 1e-9:
        return "0"
    return f"{v:.1f}".replace("-", "\u2212")


fig = plt.figure(figsize=(W / 100, H / 100), dpi=100)

for i, (rgb_x, rgb_y, hb_x, hb_y, err, red, gray) in enumerate(PANELS):
    l, t, r, b = BOXES[i]
    ax = fig.add_axes([l / W, 1 - b / H, (r - l) / W, (b - t) / H])

    gx, gy = np.array(gray).T
    ax.scatter(gx, gy, s=14, c="#9a9a9a", alpha=0.62, edgecolors="none", zorder=1)
    rx, ry = np.array(red).T
    ax.scatter(rx, ry, s=11, c="#ff8484", alpha=0.8, edgecolors="none", zorder=1.5)

    ax.axhline(BLUE_MAG[i], color="#3b3bff", ls=(0, (1, 1.5)), lw=0.9, zorder=2)
    ax.axhline(DASH_MAG[i], color="#444444", ls=(0, (5, 3)), lw=0.9, zorder=2)

    ax.plot(rgb_x, rgb_y, color=RED, lw=1.15, zorder=3)
    pts = np.column_stack([hb_x, hb_y])
    segs = np.stack([pts[:-1], pts[1:]], axis=1)
    alph = HB_ALPHA[i]
    cols = [(0.91, 0.14, 0.17, 0.5 * (alph[k] + alph[k + 1])) for k in range(len(segs))]
    ax.add_collection(LineCollection(segs, colors=cols, linewidths=1.1, zorder=3))

    ex, ey, edx = np.array(err).T
    ax.errorbar(ex, ey, xerr=edx, fmt="_", ms=3, mew=1.8, color="black",
                ecolor="black", elinewidth=0.7, capsize=1.3, capthick=0.7, zorder=4)

    ax.set_xlim(*XLIMS[i])
    ax.set_ylim(*YLIMS[i])
    ax.xaxis.set_major_locator(MultipleLocator(0.2))
    ax.xaxis.set_minor_locator(MultipleLocator(0.025))
    ax.yaxis.set_major_locator(MultipleLocator(1))
    ax.yaxis.set_minor_locator(MultipleLocator(0.2))
    ax.xaxis.set_major_formatter(FuncFormatter(tick_fmt))
    ax.tick_params(which="both", direction="in", top=False, right=False,
                   colors="#555555", labelcolor="#222222", labelsize=9.5)
    ax.tick_params(which="major", length=3.5, width=0.7)
    ax.tick_params(which="minor", length=2, width=0.6)
    ax.tick_params(axis="x", pad=5)
    ax.tick_params(axis="y", pad=5)
    for sp in ax.spines.values():
        sp.set_color("#808080")
        sp.set_linewidth(0.9)

    ax.text(0.018, 0.97, NAMES[i], transform=ax.transAxes, ha="left", va="top",
            fontsize=11.5, color="#111111", zorder=5)

    if i >= 3:
        fig.text(((l + r) / 2) / W, 1 - 383 / H,
                 r"$\mathrm{m_{606}}$ $-$ $\mathrm{m_{814}}$(STMAG)",
                 ha="center", va="center", fontsize=9.5, color="#222222")
    if i in (0, 3):
        fig.text(10 / W, 1 - ((t + b) / 2) / H, r"$\mathrm{m_{814}}$(STMAG)",
                 rotation=90, ha="center", va="center", fontsize=9.5, color="#222222")

fig.savefig("out.png", dpi=100)
